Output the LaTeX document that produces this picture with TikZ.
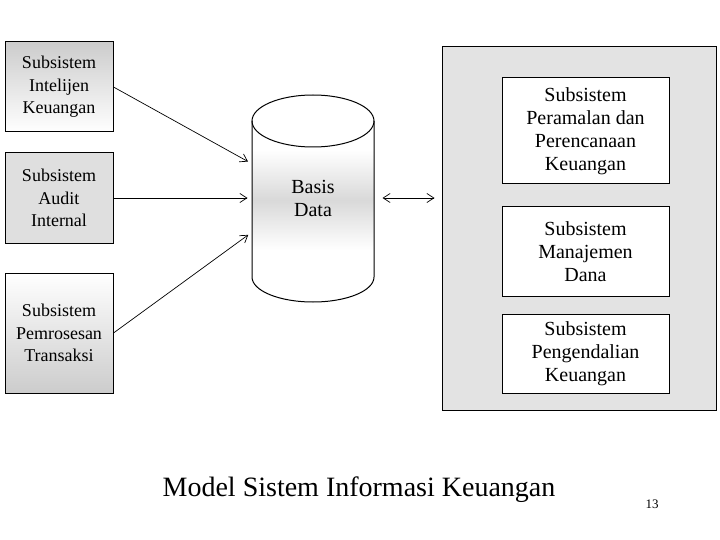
\documentclass[tikz,border=0pt]{standalone}
\usepackage{fontspec}
\setmainfont{Liberation Serif}
\usetikzlibrary{arrows.meta}
\begin{document}
\begin{tikzpicture}[x=1pt,y=-1pt,line width=1pt,
  subl/.style={draw,align=center,inner sep=0pt,font=\fontsize{18}{22.5}\selectfont},
  subr/.style={draw,fill=white,align=center,inner sep=0pt,minimum width=167,font=\fontsize{20}{23}\selectfont},
  tip/.style={-{Straight Barb[length=7pt,width=9pt]},line width=0.7pt}]
\useasboundingbox (0,0) rectangle (720,540);

\node[subl,minimum width=108,minimum height=90,top color=gray!40,bottom color=white] (intel) at (59,87) {Subsistem\\Intelijen\\Keuangan};
\node[subl,minimum width=108,minimum height=90,fill=gray!25] (audit) at (59,198) {Subsistem\\Audit\\Internal};
\node[subl,minimum width=108,minimum height=120,top color=white,bottom color=gray!40] (trans) at (59,333) {Subsistem\\Pemrosesan\\Transaksi};

\shade[top color=white,bottom color=white,middle color=gray!30] (252,150) rectangle (374,250);
\draw (252,121) -- (252,277) arc[start angle=180,end angle=0,x radius=61,y radius=25] -- (374,121);
\draw (313,121) ellipse[x radius=61,y radius=26];
\node[align=center,minimum width=122,minimum height=68,inner sep=0pt,font=\fontsize{20}{23}\selectfont] (db) at (313,198) {Basis\\Data};

\node[draw,minimum width=274,minimum height=363,fill=gray!22] (panel) at (579,228.5) {};
\node[subr,minimum height=106] (ramal) at (585.5,131) {Subsistem\\Peramalan dan\\Perencanaan\\Keuangan};
\node[subr,minimum height=89] (dana) at (585.5,251.5) {Subsistem\\Manajemen\\Dana};
\node[subr,minimum height=79] (kendali) at (585.5,353.5) {Subsistem\\Pengendalian\\Keuangan};

\draw[tip,shorten >=4pt] (intel.east) -- (db.north west);
\draw[tip,shorten >=4pt] (audit.east) -- (db.west);
\draw[tip,shorten >=4pt] (trans.east) -- (db.south west);
\draw[{Straight Barb[length=7pt,width=9pt]}-{Straight Barb[length=7pt,width=9pt]},line width=0.7pt,shorten <=8pt,shorten >=7pt] (db.east) -- (db.east -| panel.west);

\node[font=\fontsize{28}{32}\selectfont] (judul) at (359,490) {Model Sistem Informasi Keuangan};
\node[font=\fontsize{13}{15}\selectfont] (hal) at (652,504) {13};
\end{tikzpicture}
\end{document}
